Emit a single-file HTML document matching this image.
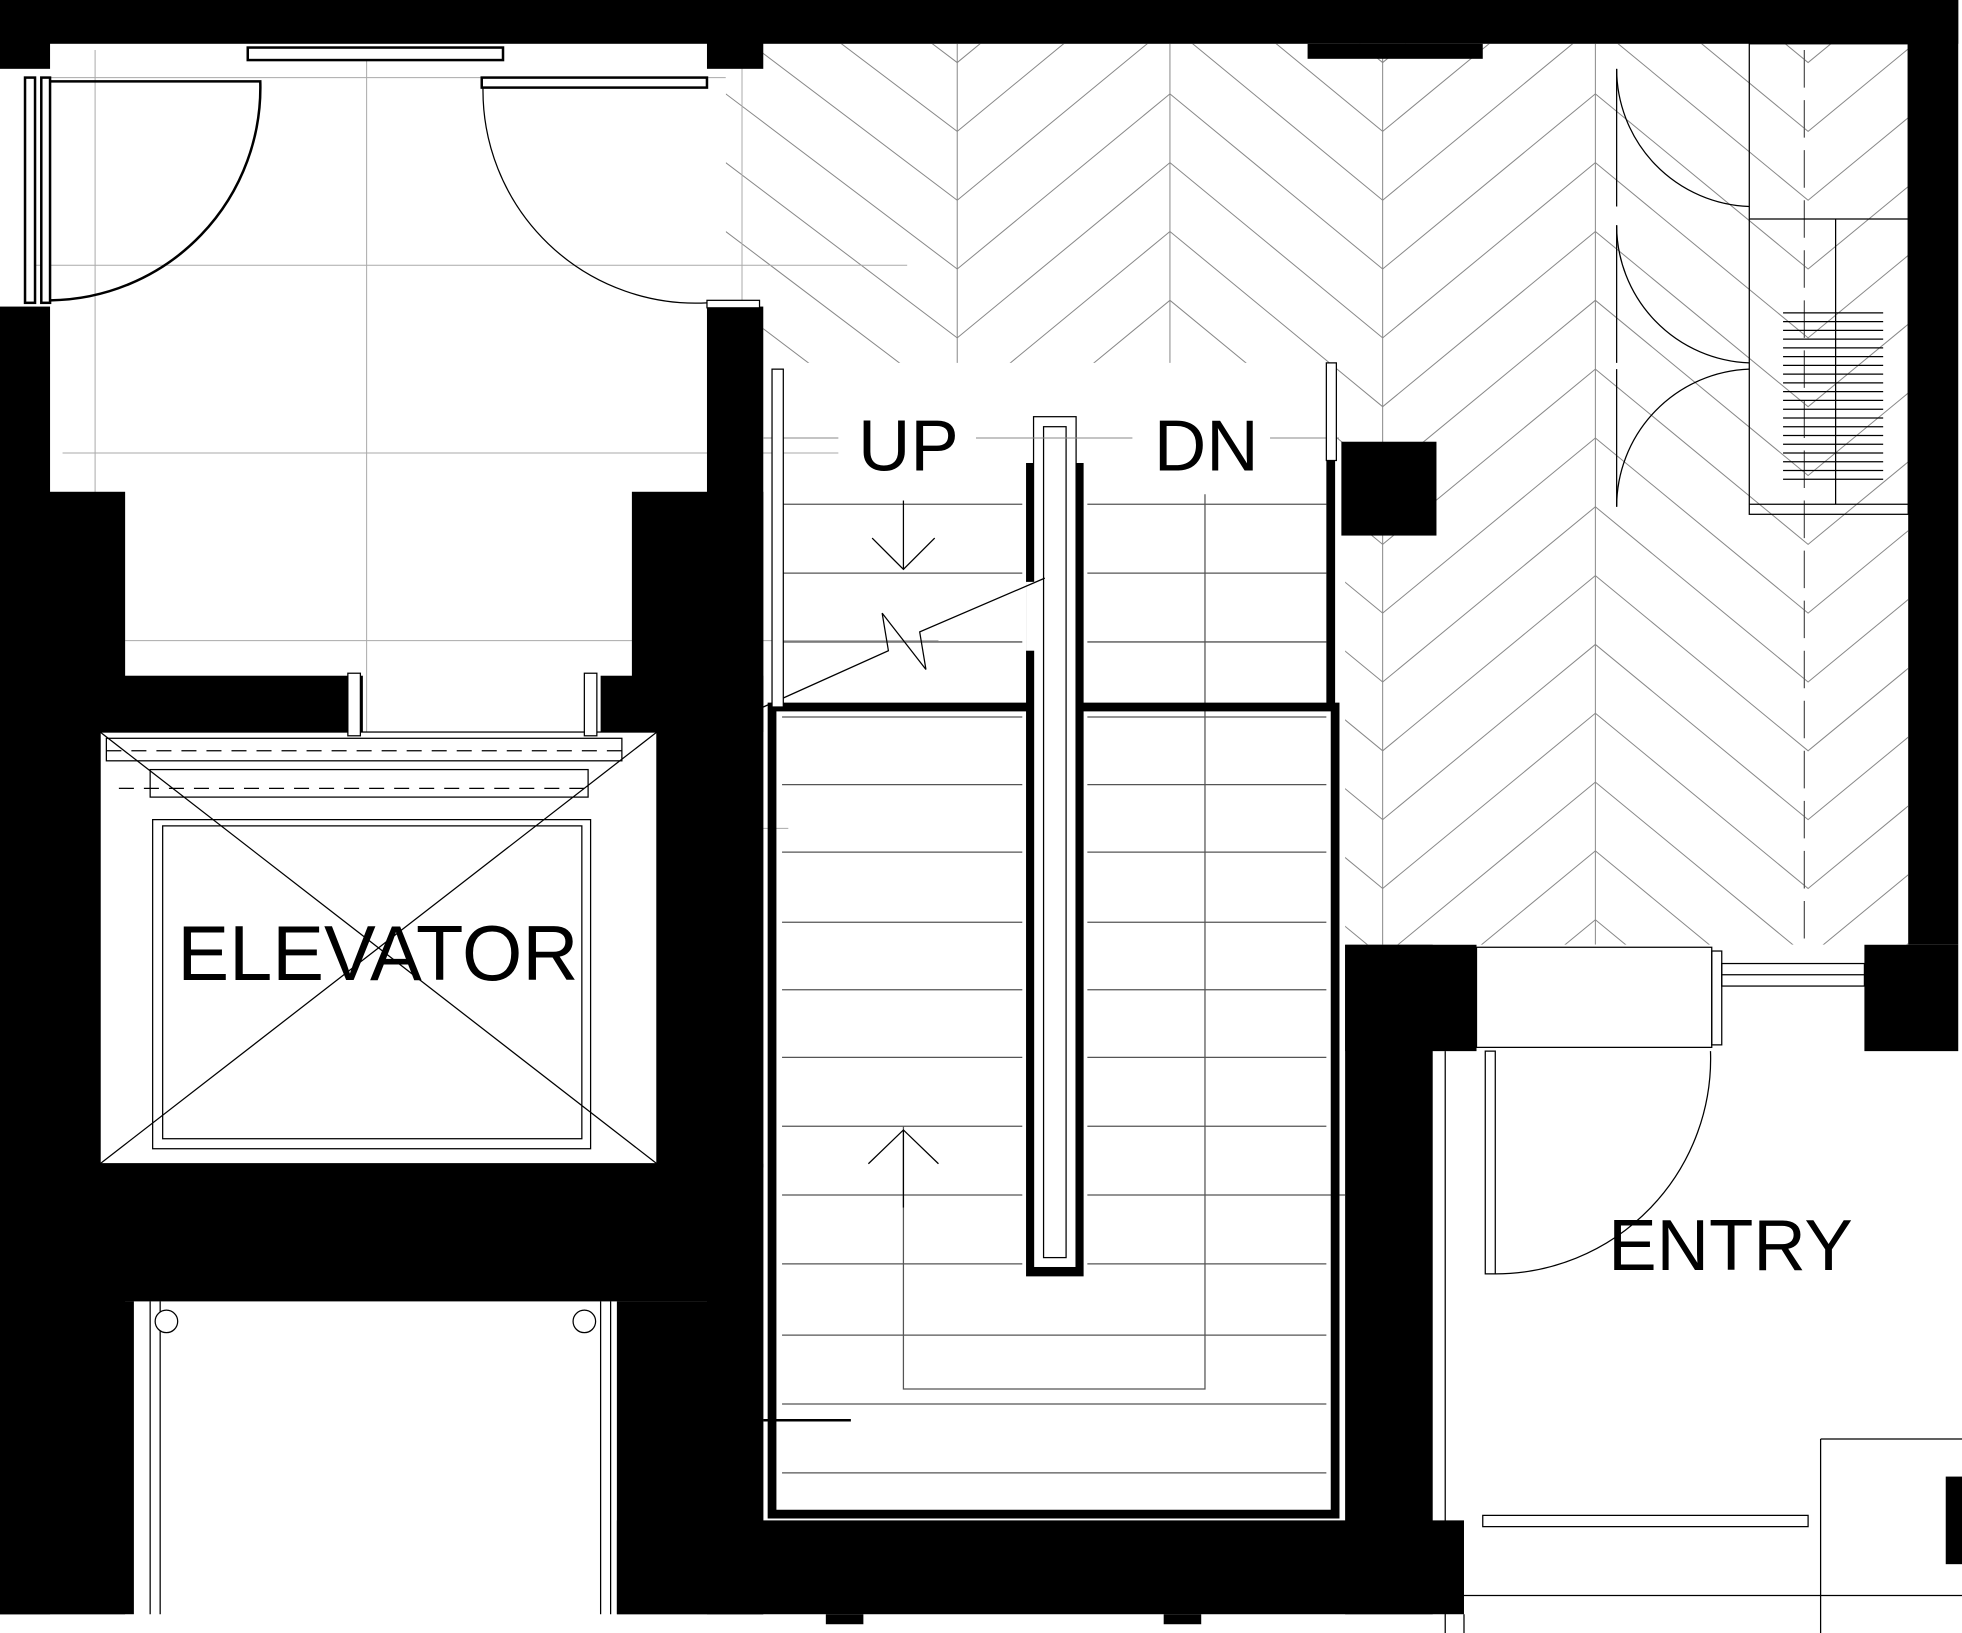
<!DOCTYPE html>
<html><head><meta charset="utf-8"><style>html,body{margin:0;padding:0;background:#fff}svg{display:block}</style></head>
<body>
<svg width="1962" height="1633" viewBox="0 0 1568 1305" preserveAspectRatio="none" xmlns="http://www.w3.org/2000/svg" font-family="Liberation Sans, sans-serif">
<rect width="1568" height="1305" fill="#fff"/>
<defs><clipPath id="hb"><polygon points="580,35 1525,35 1525,755 1075,755 1075,355 1060,355 1060,290 610,290 610,245 580,245"/></clipPath></defs>
<g stroke="#888" stroke-width="0.8" fill="none" clip-path="url(#hb)">
<g id="chev">
<polyline points="580,-200 765,-60 935,-200 1105,-60 1275,-200 1445,-60 1615,-200"/>
</g>
<use href="#chev" y="55"/><use href="#chev" y="110"/><use href="#chev" y="165"/><use href="#chev" y="220"/><use href="#chev" y="275"/><use href="#chev" y="330"/><use href="#chev" y="385"/><use href="#chev" y="440"/><use href="#chev" y="495"/><use href="#chev" y="550"/><use href="#chev" y="605"/><use href="#chev" y="660"/><use href="#chev" y="715"/><use href="#chev" y="770"/><use href="#chev" y="825"/><use href="#chev" y="880"/><use href="#chev" y="935"/><use href="#chev" y="990"/><use href="#chev" y="1045"/>
<line x1="765" y1="35" x2="765" y2="755"/><line x1="935" y1="35" x2="935" y2="755"/><line x1="1105" y1="35" x2="1105" y2="755"/><line x1="1275" y1="35" x2="1275" y2="755"/>
</g>
<line x1="1442" y1="40" x2="1442" y2="755" stroke="#555" stroke-dasharray="30,10"/>
<g stroke="#aaa" stroke-width="0.8">
<line x1="76" y1="40" x2="76" y2="490"/><line x1="293" y1="40" x2="293" y2="670"/><line x1="593" y1="40" x2="593" y2="670"/>
<line x1="40" y1="62" x2="580" y2="62"/><line x1="25" y1="212" x2="725" y2="212"/><line x1="50" y1="362" x2="707" y2="362"/><line x1="100" y1="512" x2="750" y2="512"/><line x1="120" y1="662" x2="630" y2="662"/>
</g>
<g fill="#000">
<rect x="0" y="0" width="1565" height="35"/>
<rect x="0" y="0" width="40" height="55"/>
<rect x="565" y="0" width="45" height="55"/>
<rect x="1525" y="0" width="40" height="755"/>
<rect x="0" y="245" width="40" height="1045"/>
<rect x="0" y="393" width="100" height="897"/>
<rect x="565" y="245" width="45" height="1045"/>
<rect x="505" y="393" width="105" height="540"/>
<rect x="0" y="540" width="290" height="45"/>
<rect x="480" y="540" width="130" height="45"/>
<rect x="0" y="930" width="610" height="110"/>
<rect x="0" y="1040" width="107" height="250"/>
<rect x="493" y="1040" width="117" height="250"/>
<rect x="493" y="1215" width="677" height="75"/>
<rect x="1075" y="755" width="70" height="535"/>
<rect x="1075" y="755" width="105" height="85"/>
<rect x="1490" y="755" width="75" height="85"/>
<rect x="1072" y="353" width="76" height="75"/>
<rect x="1045" y="35" width="140" height="12"/>
<rect x="1555" y="1180" width="13" height="70"/>
</g>
<g fill="#fff" stroke="#000" stroke-width="2">
<rect x="198" y="38" width="204" height="10"/>
<rect x="385" y="62" width="180" height="8"/>
<rect x="20" y="62" width="8" height="180"/>
<rect x="33" y="62" width="7" height="180"/>
</g>
<path d="M40,65 L208,65 A170,170 0 0 1 40,240" fill="none" stroke="#000" stroke-width="2"/>
<path d="M386,70 A170,170 0 0 0 565,242" fill="none" stroke="#000"/>
<rect x="565" y="240" width="42" height="6" fill="#fff" stroke="#000"/>
<!-- elevator -->
<rect x="80" y="585" width="445" height="345" fill="#fff"/>
<g fill="none" stroke="#000" stroke-width="1">
<rect x="80" y="585" width="445" height="345"/>
<rect x="122" y="655" width="350" height="263"/>
<rect x="130" y="660" width="335" height="250"/>
<line x1="80" y1="585" x2="525" y2="930"/><line x1="525" y1="585" x2="80" y2="930"/>
<line x1="85" y1="600" x2="500" y2="600" stroke-dasharray="12,8"/>
<line x1="95" y1="630" x2="470" y2="630" stroke-dasharray="12,8"/>
<rect x="85" y="590" width="412" height="18"/>
<rect x="120" y="615" width="350" height="22"/>
<rect x="278" y="538" width="10" height="50" fill="#fff"/><rect x="467" y="538" width="10" height="50" fill="#fff"/>
</g>
<text x="302" y="783" font-size="62" text-anchor="middle">ELEVATOR</text>
<g fill="none" stroke="#000">
<line x1="120" y1="1040" x2="120" y2="1290"/><line x1="128" y1="1040" x2="128" y2="1290"/>
<line x1="480" y1="1040" x2="480" y2="1290"/><line x1="488" y1="1040" x2="488" y2="1290"/>
<circle cx="133" cy="1056" r="9" fill="#fff"/><circle cx="467" cy="1056" r="9" fill="#fff"/>
</g>
<g stroke="#555" stroke-width="1" fill="none">
<line x1="625" y1="403" x2="817" y2="403"/><line x1="625" y1="458" x2="817" y2="458"/><line x1="625" y1="513" x2="817" y2="513"/><line x1="625" y1="573" x2="817" y2="573"/><line x1="625" y1="627" x2="817" y2="627"/><line x1="625" y1="681" x2="817" y2="681"/><line x1="625" y1="737" x2="817" y2="737"/><line x1="625" y1="791" x2="817" y2="791"/><line x1="625" y1="845" x2="817" y2="845"/><line x1="625" y1="900" x2="817" y2="900"/><line x1="625" y1="955" x2="817" y2="955"/><line x1="625" y1="1010" x2="817" y2="1010"/><line x1="625" y1="1067" x2="1060" y2="1067"/><line x1="625" y1="1122" x2="1060" y2="1122"/><line x1="625" y1="1177" x2="1060" y2="1177"/>
<line x1="869" y1="403" x2="1060" y2="403"/><line x1="869" y1="458" x2="1060" y2="458"/><line x1="869" y1="513" x2="1060" y2="513"/><line x1="869" y1="573" x2="1060" y2="573"/><line x1="869" y1="627" x2="1060" y2="627"/><line x1="869" y1="681" x2="1060" y2="681"/><line x1="869" y1="737" x2="1060" y2="737"/><line x1="869" y1="791" x2="1060" y2="791"/><line x1="869" y1="845" x2="1060" y2="845"/><line x1="869" y1="900" x2="1060" y2="900"/><line x1="869" y1="955" x2="1075" y2="955"/><line x1="869" y1="1010" x2="1060" y2="1010"/>
<polyline points="722,900 722,1110 963,1110 963,395"/>
</g>
<rect x="617" y="565" width="450" height="645" fill="none" stroke="#000" stroke-width="7"/>
<rect x="820" y="370" width="46" height="650" fill="#000"/>
<rect x="826" y="333" width="34" height="680" fill="#fff" stroke="#000"/>
<rect x="834" y="341" width="18" height="664" fill="#fff" stroke="#000"/>
<rect x="820" y="465" width="10" height="55" fill="#fff"/>
<polyline points="610,565 710,520 705,490 740,535 735,505 835,462" fill="none" stroke="#000"/>
<rect x="1060" y="368" width="7" height="200" fill="#000"/>
<line x1="610" y1="350" x2="1070" y2="350" stroke="#888" stroke-width="0.8"/>
<rect x="617" y="295" width="9" height="270" fill="#fff" stroke="#000"/>
<rect x="1060" y="290" width="8" height="78" fill="#fff" stroke="#000"/>
<rect x="670" y="320" width="110" height="60" fill="#fff"/><rect x="905" y="320" width="110" height="60" fill="#fff"/>
<text x="726" y="376" font-size="58" text-anchor="middle">UP</text>
<text x="964" y="376" font-size="58" text-anchor="middle">DN</text>
<g stroke="#000" fill="none"><line x1="722" y1="400" x2="722" y2="455"/><polyline points="697,430 722,455 747,430"/>
<line x1="722" y1="903" x2="722" y2="965"/><polyline points="694,930 722,903 750,930"/>
<line x1="610" y1="1135" x2="680" y2="1135" stroke-width="2"/></g>
<g fill="none" stroke="#000">
<rect x="1398" y="35" width="127" height="376"/>
<line x1="1398" y1="175" x2="1525" y2="175"/><line x1="1398" y1="403" x2="1525" y2="403"/>
<line x1="1467" y1="175" x2="1467" y2="403"/>
<path d="M1292,55 A110,110 0 0 0 1398,165"/><line x1="1292" y1="55" x2="1292" y2="165"/>
<path d="M1292,180 A110,110 0 0 0 1398,290"/><line x1="1292" y1="180" x2="1292" y2="290"/>
<path d="M1292,405 A110,110 0 0 1 1398,295"/><line x1="1292" y1="295" x2="1292" y2="405"/>
</g>
<g stroke="#000">
<line x1="1425" y1="250" x2="1505" y2="250"/><line x1="1425" y1="257" x2="1505" y2="257"/><line x1="1425" y1="264" x2="1505" y2="264"/><line x1="1425" y1="271" x2="1505" y2="271"/><line x1="1425" y1="278" x2="1505" y2="278"/><line x1="1425" y1="285" x2="1505" y2="285"/><line x1="1425" y1="292" x2="1505" y2="292"/><line x1="1425" y1="299" x2="1505" y2="299"/><line x1="1425" y1="306" x2="1505" y2="306"/><line x1="1425" y1="313" x2="1505" y2="313"/><line x1="1425" y1="320" x2="1505" y2="320"/><line x1="1425" y1="327" x2="1505" y2="327"/><line x1="1425" y1="334" x2="1505" y2="334"/><line x1="1425" y1="341" x2="1505" y2="341"/><line x1="1425" y1="348" x2="1505" y2="348"/><line x1="1425" y1="355" x2="1505" y2="355"/><line x1="1425" y1="362" x2="1505" y2="362"/><line x1="1425" y1="369" x2="1505" y2="369"/><line x1="1425" y1="376" x2="1505" y2="376"/><line x1="1425" y1="383" x2="1505" y2="383"/>
</g>
<g fill="none" stroke="#000">
<rect x="1180" y="757" width="188" height="80"/>
<rect x="1368" y="760" width="8" height="75"/>
<rect x="1376" y="770" width="114" height="18"/>
<line x1="1376" y1="779" x2="1490" y2="779"/>
<rect x="1187" y="840" width="8" height="178"/>
<path d="M1195,1018 A172,172 0 0 0 1367,840"/>
<line x1="1155" y1="840" x2="1155" y2="1305"/><line x1="1170" y1="1290" x2="1170" y2="1305"/>
<line x1="1455" y1="1150" x2="1568" y2="1150"/><line x1="1455" y1="1150" x2="1455" y2="1305"/>
<rect x="1185" y="1211" width="260" height="9"/>
<line x1="1170" y1="1275" x2="1568" y2="1275"/>
</g>
<text x="1383" y="1015" font-size="58" text-anchor="middle">ENTRY</text>
<g fill="#000"><rect x="660" y="1290" width="30" height="8"/><rect x="930" y="1290" width="30" height="8"/></g>
</svg>
</body></html>
